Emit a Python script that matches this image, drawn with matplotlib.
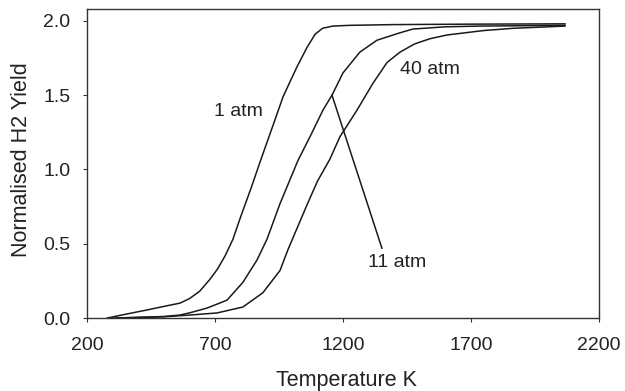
import matplotlib.pyplot as plt

plt.rcParams['font.family'] = ['Liberation Sans', 'DejaVu Sans']

# Temperature (K) and normalised H2 yield
t_1atm = [280, 350, 434, 520, 563, 600, 640, 680, 710, 740, 770, 800, 840, 880,
          915, 966, 1020, 1059, 1091, 1120, 1160, 1227, 1400, 1700, 2067]
y_1atm = [0.0, 0.025, 0.054, 0.085, 0.10, 0.13, 0.18, 0.26, 0.33, 0.42, 0.53, 0.68,
          0.87, 1.07, 1.24, 1.49, 1.69, 1.82, 1.91, 1.95, 1.965, 1.97, 1.975, 1.978, 1.98]

t_11atm = [317, 400, 500, 563, 602, 669, 747, 809, 864, 903, 954, 1024, 1071,
           1122, 1157, 1200, 1266, 1333, 1423, 1473, 1600, 1735, 2067]
y_11atm = [0.0, 0.005, 0.01, 0.02, 0.035, 0.067, 0.12, 0.24, 0.39, 0.53, 0.77,
           1.06, 1.22, 1.40, 1.50, 1.65, 1.79, 1.87, 1.92, 1.945, 1.96, 1.965, 1.97]

t_40atm = [300, 400, 500, 602, 708, 809, 887, 954, 985, 1059, 1100, 1149, 1188,
           1255, 1317, 1372, 1423, 1480, 1540, 1606, 1750, 1864, 2067]
y_40atm = [0.0, 0.003, 0.008, 0.02, 0.034, 0.074, 0.17, 0.32, 0.46, 0.76, 0.92,
           1.07, 1.22, 1.40, 1.58, 1.72, 1.79, 1.845, 1.88, 1.905, 1.935, 1.95, 1.965]

# leader line from the "11 atm" label to its curve
leader_t = [1157, 1352]
leader_y = [1.50, 0.47]

x_ticks = [200, 700, 1200, 1700, 2200]
y_ticks = [0.0, 0.5, 1.0, 1.5, 2.0]

fig = plt.figure(figsize=(6.25, 3.91), dpi=100)
ax = fig.add_axes([0.1392, 0.1867, 0.8192, 0.7903])

line_kw = dict(color='#1a1a1a', lw=1.1)
ax.plot(t_1atm, y_1atm, **line_kw)
ax.plot(t_11atm, y_11atm, **line_kw)
ax.plot(t_40atm, y_40atm, **line_kw)
ax.plot(leader_t, leader_y, **line_kw)

txt = dict(fontsize=14, color='#222222', ha='center', va='center')
ax.text(790, 1.39, '1 atm', **txt)
ax.text(1540, 1.67, '40 atm', **txt)
ax.text(1411, 0.375, '11 atm', **txt)

ax.set_xlim(200, 2200)
ax.set_ylim(0, 2.08)
ax.set_xticks(x_ticks)
ax.set_yticks(y_ticks)
ax.set_yticklabels([f'{v:.1f}' for v in y_ticks])

for s in ax.spines.values():
    s.set_color('#333333')
    s.set_linewidth(1.0)

ax.tick_params(axis='both', direction='out', length=3, width=0.8,
               colors='#333333', labelsize=14, labelcolor='#222222')
ax.tick_params(axis='x', pad=11)
ax.tick_params(axis='y', pad=9)

ax.set_xlabel('Temperature K', fontsize=15.5, color='#222222')
ax.set_ylabel('Normalised H2 Yield', fontsize=15.5, color='#222222')
ax.xaxis.set_label_coords(0.506, -0.168)
ax.yaxis.set_label_coords(-0.107, 0.511)

fig.savefig('out.png', dpi=100)
